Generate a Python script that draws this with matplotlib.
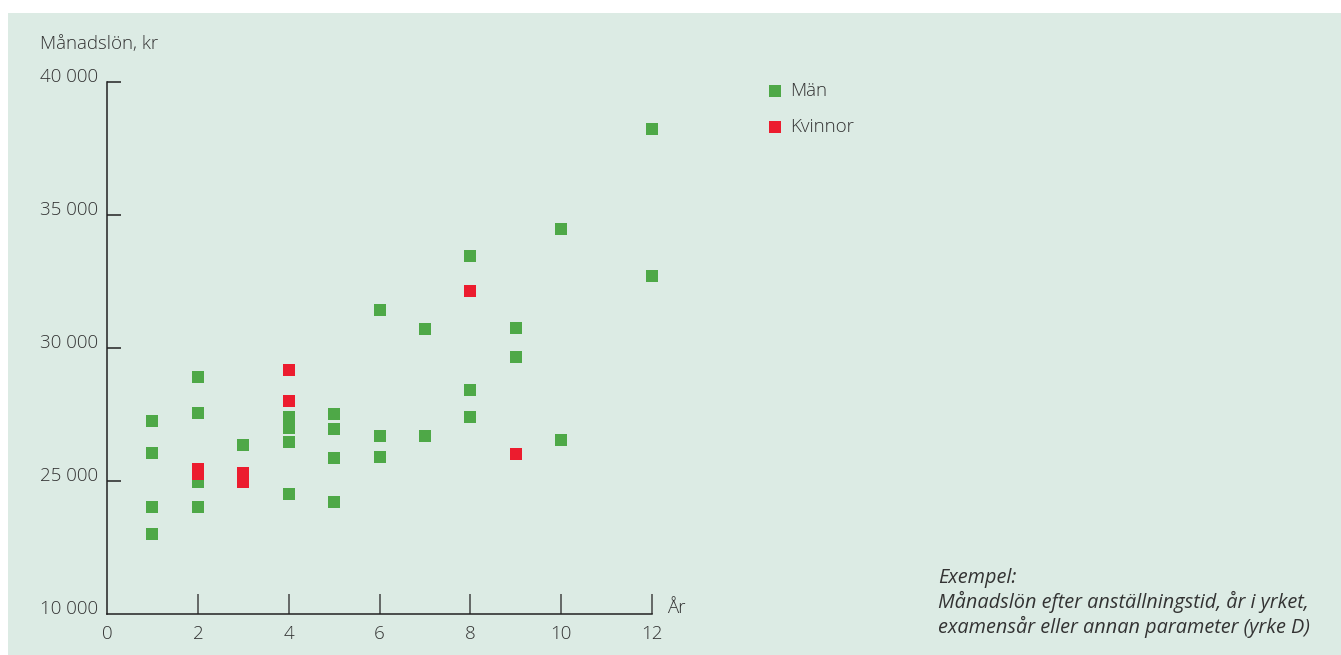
import matplotlib
matplotlib.use("Agg")
import matplotlib.pyplot as plt
from matplotlib.patches import Rectangle

# ---- data ----
man_years = [1, 1, 1, 1, 2, 2, 2, 2, 3, 4, 4, 4, 4, 5, 5, 5, 5, 6, 6, 6,
             7, 7, 8, 8, 8, 9, 9, 10, 10, 12, 12]
man_salary = [27250, 26050, 24000, 23000, 28900, 27550, 24950, 24000, 26350,
              27400, 27000, 26450, 24500, 27500, 26950, 25850, 24200,
              31400, 26700, 25900, 30700, 26700, 33450, 28400, 27400,
              30750, 29650, 34450, 26550, 38200, 32700]
women_years = [2, 2, 3, 3, 4, 4, 8, 9]
women_salary = [25450, 25250, 25300, 24950, 29150, 28000, 32150, 26000]

x_ticks = [0, 2, 4, 6, 8, 10, 12]
y_ticks = [20000, 25000, 30000, 35000, 40000]
y_tick_labels = ["10 000", "25 000", "30 000", "35 000", "40 000"]

series_labels = ["Män", "Kvinnor"]
y_title = "Månadslön, kr"
x_title = "År"
caption = ("Exempel:\nMånadslön efter anställningstid, år i yrket,\n"
           "examensår eller annan parameter (yrke D)")

# ---- style ----
plt.rcParams['font.family'] = ['Open Sans', 'DejaVu Sans']
plt.rcParams['font.weight'] = 300
TXT = '#333333'
BG = '#dcebe4'
GREEN = '#4ea847'
RED = '#ec1c2e'
FS = 13.5

W, H = 1341, 655
fig = plt.figure(figsize=(W / 100, H / 100), dpi=100)
fig.patch.set_facecolor('white')
fig.patches.append(Rectangle((8 / W, 0), 1 - 8 / W, 1 - 13 / H,
                             transform=fig.transFigure, facecolor=BG,
                             edgecolor='none', zorder=-10))

ax = fig.add_axes([107 / W, 41 / H, (652 - 107) / W, (614 - 81.5) / H])
ax.set_facecolor('none')

ax.scatter(man_years, man_salary, marker='s', s=64, color=GREEN,
           linewidths=0, label=series_labels[0], zorder=3, clip_on=False)
ax.scatter(women_years, women_salary, marker='s', s=64, color=RED,
           linewidths=0, label=series_labels[1], zorder=4, clip_on=False)

ax.set_xlim(0, 12)
ax.set_ylim(20000, 40000)
for s in ['top', 'right']:
    ax.spines[s].set_visible(False)
for s in ['left', 'bottom']:
    ax.spines[s].set_color('#222222')
    ax.spines[s].set_linewidth(1.1)

ax.set_xticks(x_ticks)
ax.set_xticklabels([str(v) for v in x_ticks])
ax.set_yticks(y_ticks)
ax.set_yticklabels(y_tick_labels)
ax.tick_params(axis='x', direction='in', length=14.5, width=1.1,
               color='#444444', labelsize=FS, labelcolor=TXT, pad=8)
ax.tick_params(axis='y', direction='in', length=10, width=1.1,
               color='#222222', labelsize=FS, labelcolor=TXT, pad=6.5)
ax.xaxis.get_major_ticks()[0].tick1line.set_visible(False)
ax.yaxis.get_major_ticks()[0].tick1line.set_visible(False)
for lab in ax.get_yticklabels():
    lab.set_verticalalignment('baseline')

fig.text(40 / W, 1 - 49.3 / H, y_title, fontsize=FS, color=TXT,
         ha='left', va='baseline')
fig.text(667 / W, 1 - 613 / H, x_title, fontsize=FS, color=TXT,
         ha='left', va='baseline')
fig.text(938 / W, 1 - 633 / H, caption, fontsize=14.3, color=TXT,
         style='italic', fontweight='normal', ha='left', va='baseline',
         linespacing=1.18)

leg = ax.legend(loc='upper left', bbox_to_anchor=(769 / W, 1 - 82 / H),
                bbox_transform=fig.transFigure, frameon=False, fontsize=FS,
                handlelength=0.6, handletextpad=0.5, labelspacing=0.98,
                borderpad=0, borderaxespad=0, markerscale=1.0)
for t in leg.get_texts():
    t.set_color(TXT)

fig.savefig('out.png', dpi=100, facecolor='white')
